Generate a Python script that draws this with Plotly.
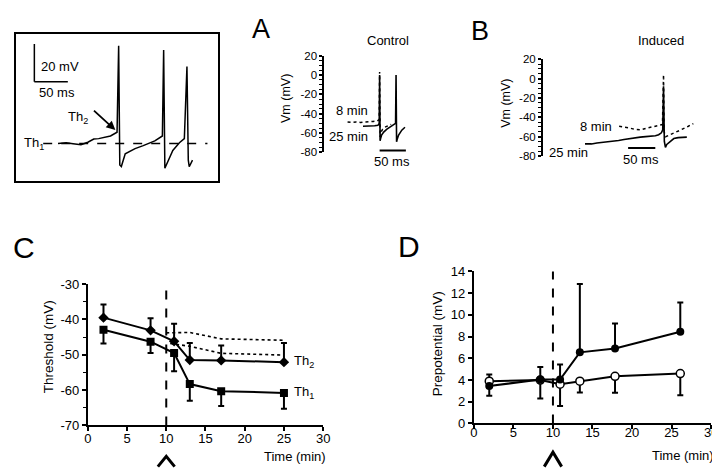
import plotly.graph_objects as go

FONT = "Liberation Sans, Arial, sans-serif"

# ---------------- Panel C data (Threshold vs time) ----------------
c_time_th2 = [2, 8, 11, 13, 17, 25]
c_th2 = [-39.5, -43.1, -46.2, -51.5, -51.6, -52.1]
c_th2_err = [3.7, 3.4, 5.0, 4.8, 4.2, 5.4]
c_time_th1 = [2, 8, 11, 13, 17, 25]
c_th1 = [-42.9, -46.3, -49.5, -58.3, -60.3, -60.8]
c_th1_err = [3.9, 3.2, 5.2, 4.7, 4.2, 4.5]
c_dot_upper_t = [10, 13, 17, 25]
c_dot_upper = [-43.8, -43.7, -45.5, -45.9]
c_dot_lower_t = [10.5, 13, 17, 25]
c_dot_lower = [-46.8, -47.6, -49.6, -50.1]
c_yticks = [-70, -60, -50, -40, -30]
c_yticklabels = ["-70", "-60", "-50", "-40", "-30"]
time_ticks = [0, 5, 10, 15, 20, 25, 30]

# ---------------- Panel D data (Prepotential vs time) ----------------
d_time = [1.95, 8.4, 10.9, 13.4, 17.85, 26.1]
d_filled = [3.45, 4.05, 4.04, 6.55, 6.9, 8.45]
d_filled_up = [0, 1.15, 1.4, 6.3, 2.3, 2.7]
d_filled_down = [0.9, 0, 0, 0, 0, 0]
d_open = [3.9, 4.0, 3.62, 3.9, 4.34, 4.6]
d_open_up = [0.6, 0, 0, 0, 0, 0]
d_open_down = [0, 1.7, 2.0, 1.05, 1.5, 2.0]
d_yticks = [0, 2, 4, 6, 8, 10, 12, 14]

# ---------------- Panel A traces (ms, mV) ----------------
a_8_t = [44, 52, 60, 68, 76, 84, 92, 100, 103.5, 104.3, 105.2, 107, 110, 114, 120, 126]
a_8_v = [-48.5, -49, -48.5, -49, -48.5, -48.5, -48, -47.5, -46, 3, -64, -59, -56, -54, -52.5, -51]
a_25_t = [73, 85, 95, 101, 103.5, 104.3, 105.2, 106, 108, 112, 118, 124, 130, 134.3, 135.2,
          136.2, 137, 140, 146, 152]
a_25_v = [-53, -53, -52.5, -52, -50, 0, -68, -66, -62, -59, -56, -54, -52, -50, 0,
          -69, -67, -62, -57, -54]
a_bar_t = [104.3, 153.7]
a_bar_v = [-78, -78]
vm_ticks = [-80, -60, -40, -20, 0, 20]
vm_ticklabels = ["-80", "-60", "-40", "-20", "0", "20"]

# ---------------- Panel B traces (ms, mV) ----------------
b_8_t = [141, 150, 160, 170, 180, 190, 200, 210, 216, 221, 223, 224, 227, 240, 255, 268, 278]
b_8_v = [-49.3, -50, -51, -52.5, -53, -51.5, -50, -48.5, -48, -47.5, 4, -55, -60, -57, -53, -49.5, -46.5]
b_25_t = [78, 90, 100, 110, 120, 130, 140, 150, 160, 170, 180, 190, 200, 208, 214, 219,
          221.5, 223, 224.5, 226.5, 229, 235, 242, 250, 258, 266]
b_25_v = [-67.5, -67.5, -66.5, -66, -65.5, -64.5, -64, -63, -62, -61.5, -60.5, -60, -59.5,
          -59, -58, -56, -53, -8, -65, -71, -68, -65, -62, -61, -60.5, -60.5]
b_bar_t = [157.6, 207.8]
b_bar_v = [-71.6, -71.6]

# ---------------- Inset trace (ms, mV) ----------------
i_t = [62.8, 75.0, 85.3, 97.1, 107.4, 116.2, 123.5, 133.8, 141.2, 151.0, 153.4, 155.1, 157.4,
       163.2, 177.9, 190.1, 207.4, 218.7, 220.6, 222.4, 226.5, 234.3, 244.1, 251.5, 255.4,
       257.4, 258.8, 263.7]
i_v = [-60.4, -60.0, -60.5, -61.0, -59.7, -58.0, -57.8, -56.9, -56.4, -54.4, -8.6, -71.8, -72.6,
       -65.8, -63.1, -61.5, -59.0, -56.4, -10.8, -73.5, -70.3, -64.1, -60.0, -57.8, -19.6,
       -69.2, -72.7, -69.2]
i_th1_t = [40.7, 286]
i_th1_v = [-60.4, -60.4]
i_vbar_t = [27.5, 27.5]
i_vbar_v = [-7.7, -27.7]
i_hbar_t = [27.5, 77.5]
i_hbar_v = [-27.7, -27.7]

# ---------------- axes geometry ----------------
C_X, C_Y = [0.1069, 0.4389], [0.0940, 0.4060]
D_X, D_Y = [0.6514, 0.9861], [0.0983, 0.4338]
A_X, A_Y = [0.4403, 0.5653], [0.6966, 0.9103]
B_X, B_Y = [0.7486, 0.9722], [0.6887, 0.9024]
I_X, I_Y = [0.00556, 0.2903], [0.6346, 0.9573]
C_XR, C_YR = [0, 30], [-70, -30]
D_XR, D_YR = [0, 30], [0, 14]
A_XR, B_XR = [0, 166.7], [0, 292.7]
I_XR, I_YR = [0, 301.5], [-80, -2.56]

fig = go.Figure()
K = "black"

# C
fig.add_trace(go.Scatter(x=c_dot_upper_t, y=c_dot_upper, mode="lines",
                         line=dict(color=K, width=1.6, dash="dot"), xaxis="x", yaxis="y"))
fig.add_trace(go.Scatter(x=c_dot_lower_t, y=c_dot_lower, mode="lines",
                         line=dict(color=K, width=1.6, dash="dot"), xaxis="x", yaxis="y"))
fig.add_trace(go.Scatter(x=c_time_th2, y=c_th2, mode="lines+markers",
                         line=dict(color=K, width=2), marker=dict(symbol="diamond", size=8, color=K),
                         error_y=dict(type="data", symmetric=False, array=c_th2_err,
                                      arrayminus=[0] * len(c_th2), color=K, thickness=2, width=3),
                         xaxis="x", yaxis="y"))
fig.add_trace(go.Scatter(x=c_time_th1, y=c_th1, mode="lines+markers",
                         line=dict(color=K, width=2), marker=dict(symbol="square", size=8, color=K),
                         error_y=dict(type="data", symmetric=False, array=[0] * len(c_th1),
                                      arrayminus=c_th1_err, color=K, thickness=2, width=3),
                         xaxis="x", yaxis="y"))
# D
fig.add_trace(go.Scatter(x=d_time, y=d_open, mode="lines+markers",
                         line=dict(color=K, width=2),
                         marker=dict(symbol="circle", size=8, color="white", line=dict(color=K, width=1.5)),
                         error_y=dict(type="data", symmetric=False, array=d_open_up,
                                      arrayminus=d_open_down, color=K, thickness=2, width=3),
                         xaxis="x2", yaxis="y2"))
fig.add_trace(go.Scatter(x=d_time, y=d_filled, mode="lines+markers",
                         line=dict(color=K, width=2),
                         marker=dict(symbol="circle", size=8, color=K),
                         error_y=dict(type="data", symmetric=False, array=d_filled_up,
                                      arrayminus=d_filled_down, color=K, thickness=2, width=3),
                         xaxis="x2", yaxis="y2"))
# A
fig.add_trace(go.Scatter(x=a_8_t, y=a_8_v, mode="lines", line=dict(color=K, width=1.5, dash="dot"),
                         xaxis="x3", yaxis="y3"))
fig.add_trace(go.Scatter(x=a_25_t, y=a_25_v, mode="lines", line=dict(color=K, width=1.6),
                         xaxis="x3", yaxis="y3"))
fig.add_trace(go.Scatter(x=a_bar_t, y=a_bar_v, mode="lines", line=dict(color=K, width=2),
                         xaxis="x3", yaxis="y3"))
# B
fig.add_trace(go.Scatter(x=b_8_t, y=b_8_v, mode="lines", line=dict(color=K, width=1.5, dash="dot"),
                         xaxis="x4", yaxis="y4"))
fig.add_trace(go.Scatter(x=b_25_t, y=b_25_v, mode="lines", line=dict(color=K, width=1.6),
                         xaxis="x4", yaxis="y4"))
fig.add_trace(go.Scatter(x=b_bar_t, y=b_bar_v, mode="lines", line=dict(color=K, width=2),
                         xaxis="x4", yaxis="y4"))
# Inset
fig.add_trace(go.Scatter(x=i_th1_t, y=i_th1_v, mode="lines", line=dict(color=K, width=1.5, dash="dash"),
                         xaxis="x5", yaxis="y5"))
fig.add_trace(go.Scatter(x=i_t, y=i_v, mode="lines", line=dict(color=K, width=1.5),
                         xaxis="x5", yaxis="y5"))
fig.add_trace(go.Scatter(x=i_vbar_t, y=i_vbar_v, mode="lines", line=dict(color=K, width=1.5),
                         xaxis="x5", yaxis="y5"))
fig.add_trace(go.Scatter(x=i_hbar_t, y=i_hbar_v, mode="lines", line=dict(color=K, width=1.5),
                         xaxis="x5", yaxis="y5"))


def main_axis(dom, rng, anchor, tickvals, ticktext=None, minor=None, **kw):
    d = dict(domain=dom, range=rng, tickmode="array", tickvals=tickvals,
             ticktext=ticktext if ticktext else [str(v) for v in tickvals],
             anchor=anchor, showline=True,
             linecolor=K, linewidth=2, ticks="outside", ticklen=4, tickwidth=1.5, tickcolor=K,
             showgrid=False, zeroline=False, tickfont=dict(family=FONT, size=13, color=K))
    if minor:
        d["minor"] = dict(dtick=minor, tick0=0, ticks="outside", ticklen=3, tickwidth=1,
                          tickcolor=K, showgrid=False)
    d.update(kw)
    return d


hidden = dict(visible=False, showgrid=False, zeroline=False)

fig.update_layout(
    width=720, height=468, margin=dict(l=0, r=0, t=0, b=0),
    paper_bgcolor="white", plot_bgcolor="white", showlegend=False,
    font=dict(family=FONT, color=K),
    xaxis=main_axis(C_X, C_XR, "y", time_ticks, ticklabelstandoff=-4),
    yaxis=main_axis(C_Y, C_YR, "x", c_yticks, c_yticklabels, minor=5),
    xaxis2=main_axis(D_X, D_XR, "y2", time_ticks, ticklabelstandoff=-8),
    yaxis2=main_axis(D_Y, D_YR, "x2", d_yticks),
    xaxis3=dict(domain=A_X, range=A_XR, anchor="y3", **hidden),
    yaxis3=main_axis(A_Y, [-80, 20], "x3", vm_ticks, vm_ticklabels, minor=5, linewidth=1.5, ticklen=3,
                     tickfont=dict(family=FONT, size=11.5, color=K)),
    xaxis4=dict(domain=B_X, range=B_XR, anchor="y4", **hidden),
    yaxis4=main_axis(B_Y, [-80, 20], "x4", vm_ticks, vm_ticklabels, minor=5, linewidth=1.5, ticklen=3,
                     tickfont=dict(family=FONT, size=11.5, color=K)),
    xaxis5=dict(domain=I_X, range=I_XR, anchor="y5", showline=True, mirror=True, linecolor=K,
                linewidth=1.5, ticks="", showticklabels=False, showgrid=False, zeroline=False),
    yaxis5=dict(domain=I_Y, range=I_YR, anchor="x5", showline=True, mirror=True, linecolor=K,
                linewidth=1.5, ticks="", showticklabels=False, showgrid=False, zeroline=False),
)


def xp(x, dom, rng):
    return dom[0] + (x - rng[0]) / (rng[1] - rng[0]) * (dom[1] - dom[0])


shapes = [
    dict(type="line", xref="x", yref="y domain", x0=10, x1=10, y0=0, y1=1,
         line=dict(color=K, width=2, dash="dash")),
    dict(type="line", xref="x2", yref="y2 domain", x0=10, x1=10, y0=0, y1=1,
         line=dict(color=K, width=2, dash="dash")),
]
for dom, rng, hw, ytop in [(C_X, C_XR, 1.07, 0.0256), (D_X, D_XR, 1.1, 0.0348)]:
    xl, xc, xr = xp(10 - hw, dom, rng), xp(10, dom, rng), xp(10 + hw, dom, rng)
    shapes.append(dict(type="path", xref="paper", yref="paper",
                       path=f"M {xl},0.003 L {xc},{ytop} L {xr},0.003",
                       line=dict(color=K, width=3)))
fig.update_layout(shapes=shapes)


def ann(text, x, y, size=13, xanchor="center", yanchor="middle", xref="paper", yref="paper", angle=0):
    return dict(text=text, x=x, y=y, xref=xref, yref=yref, showarrow=False, xanchor=xanchor,
                yanchor=yanchor, textangle=angle, font=dict(family=FONT, size=size, color=K))


annotations = [
    ann("A", 0.3514, 0.968, size=27),
    ann("B", 0.6597, 0.9637, size=27),
    ann("C", 0.0167, 0.4872, size=30),
    ann("D", 0.5597, 0.4893, size=30),
    ann("Control", 0.5306, 0.9444),
    ann("Induced", 0.9157, 0.9444),
    ann("Vm (mV)", 0.3865, 0.8147, size=12.5, angle=-90),
    ann("Vm (mV)", 0.6968, 0.8041, size=12.5, angle=-90),
    ann("8 min", 0.5046, 0.7885, xanchor="right"),
    ann("25 min", 0.5046, 0.7308, xanchor="right"),
    ann("50 ms", 0.5361, 0.6774),
    ann("8 min", 0.8496, 0.7543, xanchor="right"),
    ann("25 min", 0.8149, 0.6959, xanchor="right"),
    ann("50 ms", 0.8872, 0.6816),
    ann("Threshold (mV)", 0.051, 0.2671, size=13.5, angle=-90),
    ann("Prepotential (mV)", 0.5996, 0.2735, size=13.5, angle=-90),
    ann("Time (min)", 0.3993, 0.0256),
    ann("Time (min)", 0.9468, 0.0278),
    ann("Th<sub>2</sub>", 26, -52, xanchor="left", xref="x", yref="y"),
    ann("Th<sub>1</sub>", 26, -60.8, xanchor="left", xref="x", yref="y"),
    ann("20 mV", 33.8, -19.5, xanchor="left", xref="x5", yref="y5"),
    ann("50 ms", 30.9, -33.3, xanchor="left", xref="x5", yref="y5"),
    ann("Th<sub>1</sub>", 8.8, -60.5, xanchor="left", xref="x5", yref="y5"),
    ann("Th<sub>2</sub>", 75, -46.7, xanchor="left", xref="x5", yref="y5"),
    dict(text="", x=148.5, y=-53.3, ax=114.3, ay=-42.2, xref="x5", yref="y5", axref="x5", ayref="y5",
         showarrow=True, arrowhead=2, arrowsize=1, arrowwidth=1.8, arrowcolor=K),
]
fig.update_layout(annotations=annotations)

fig.write_html("out.html")
